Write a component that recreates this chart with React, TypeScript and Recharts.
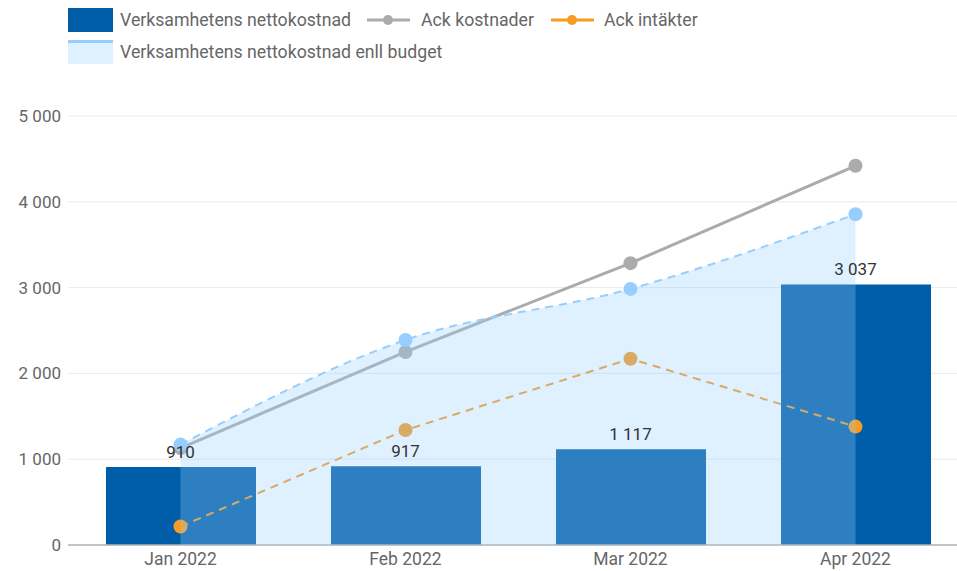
import React from "react";
import {
  ComposedChart,
  Bar,
  Line,
  Area,
  XAxis,
  YAxis,
  CartesianGrid,
  LabelList,
} from "recharts";

const months = ["Jan 2022", "Feb 2022", "Mar 2022", "Apr 2022"];
const netto = [910, 917, 1117, 3037];
const budget = [1170, 2390, 2985, 3855];
const ackKostnader = [1130, 2250, 3285, 4420];
const ackIntakter = [215, 1340, 2170, 1380];
const yTicks = [0, 1000, 2000, 3000, 4000, 5000];

const data = months.map((m, i) => ({
  month: m,
  netto: netto[i],
  budget: budget[i],
  kostnader: ackKostnader[i],
  intakter: ackIntakter[i],
}));

const DARK = "#005da8";
const LIGHT = "#95ceff";
const GRAY = "#ababab";
const ORANGE = "#f59c22";
const FONT = "Roboto, 'Noto Sans', sans-serif";

const fmt = (v: number) => String(v).replace(/\B(?=(\d{3})+(?!\d))/g, " ");

function LegendBox() {
  const text: React.CSSProperties = { fontSize: 17.7, color: "#666", whiteSpace: "nowrap" };
  return (
    <div style={{ position: "absolute", left: 68, top: 8, fontFamily: FONT, zIndex: 2 }}>
      <div style={{ display: "flex", alignItems: "center", height: 24 }}>
        <div style={{ width: 45, height: 24, background: DARK, marginRight: 7 }} />
        <span style={text}>Verksamhetens nettokostnad</span>
        <svg width={43} height={12} style={{ marginLeft: 16, marginRight: 11 }}>
          <line x1={0} y1={6} x2={43} y2={6} stroke={GRAY} strokeWidth={3} />
          <circle cx={21} cy={6} r={5} fill={GRAY} />
        </svg>
        <span style={text}>Ack kostnader</span>
        <svg width={43} height={12} style={{ marginLeft: 17, marginRight: 10 }}>
          <line x1={0} y1={6} x2={43} y2={6} stroke={ORANGE} strokeWidth={3} />
          <circle cx={21} cy={6} r={5} fill={ORANGE} />
        </svg>
        <span style={text}>Ack intäkter</span>
      </div>
      <div style={{ display: "flex", alignItems: "center", height: 24, marginTop: 8 }}>
        <div
          style={{
            width: 45,
            height: 24,
            background: "rgba(149,206,255,0.3)",
            borderTop: `3px solid ${LIGHT}`,
            boxSizing: "border-box",
            marginRight: 7,
          }}
        />
        <span style={text}>Verksamhetens nettokostnad enll budget</span>
      </div>
    </div>
  );
}

export default function App() {
  return (
    <div
      style={{
        position: "absolute",
        left: 0,
        top: 0,
        width: 957,
        height: 571,
        overflow: "hidden",
        background: "#fff",
        fontFamily: FONT,
      }}
    >
      <LegendBox />
      <ComposedChart
        width={968}
        height={571}
        data={data}
        margin={{ top: 116, right: 0, left: 0, bottom: 0 }}
        barSize={150}
      >
        <CartesianGrid vertical={false} stroke="#e6ecf2" />
        <XAxis
          dataKey="month"
          height={26}
          tickLine={false}
          axisLine={{ stroke: "#b3b3b3", strokeWidth: 1.5 }}
          tick={{ fill: "#666", fontSize: 17.5, fontFamily: FONT }}
          tickMargin={2}
        />
        <YAxis
          width={68}
          domain={[0, 5000]}
          ticks={yTicks}
          tickFormatter={fmt}
          axisLine={false}
          tickLine={false}
          tickSize={0}
          tickMargin={7}
          tick={{ fill: "#666", fontSize: 17, fontFamily: FONT }}
        />
        <Bar dataKey="netto" fill={DARK} isAnimationActive={false} />
        <Line
          type="linear"
          dataKey="kostnader"
          stroke={GRAY}
          strokeWidth={3}
          dot={{ r: 7, fill: GRAY, stroke: "none" }}
          activeDot={false}
          isAnimationActive={false}
        />
        <Line
          type="linear"
          dataKey="intakter"
          stroke={ORANGE}
          strokeWidth={2}
          strokeDasharray="8 6"
          dot={{ r: 7, fill: ORANGE, stroke: "none" }}
          activeDot={false}
          isAnimationActive={false}
        />
        <Area
          type="monotone"
          dataKey="budget"
          stroke={LIGHT}
          strokeWidth={2}
          strokeDasharray="8 6"
          fill={LIGHT}
          fillOpacity={0.3}
          dot={{ r: 7, fill: LIGHT, fillOpacity: 1, stroke: "none", strokeDasharray: "0" }}
          activeDot={false}
          isAnimationActive={false}
          zIndex={1500}
        />
        <Line
          dataKey="netto"
          stroke="none"
          dot={false}
          activeDot={false}
          legendType="none"
          isAnimationActive={false}
        >
          <LabelList
            dataKey="netto"
            position="top"
            offset={9}
            formatter={(v: number) => fmt(v)}
            style={{ fill: "#333", fontSize: 17, fontFamily: FONT }}
          />
        </Line>
      </ComposedChart>
    </div>
  );
}
